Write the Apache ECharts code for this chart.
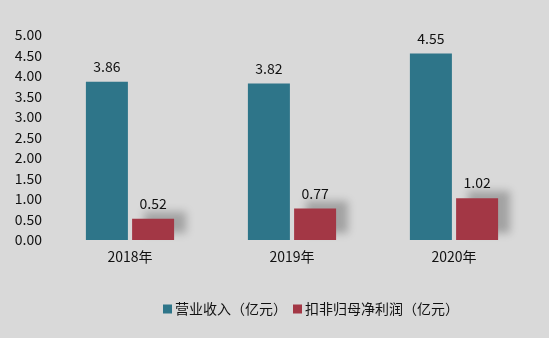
<!DOCTYPE html>
<html><head><meta charset="utf-8">
<script src="https://cdn.jsdelivr.net/npm/echarts@6/dist/echarts.min.js"></script>
<style>html,body{margin:0;padding:0;background:#d9d9d9;}#c{width:549px;height:338px;}</style>
</head><body><div id="c"></div>
<script>
const categories = ['2018年', '2019年', '2020年'];
const revenue = [3.86, 3.82, 4.55];
const netProfit = [0.52, 0.77, 1.02];
const yTicks = { min: 0, max: 5, interval: 0.5 };
const seriesNames = ['营业收入（亿元）', '扣非归母净利润（亿元）'];

const font = '"Noto Sans CJK SC", "Noto Sans", sans-serif';
const chart = echarts.init(document.getElementById('c'));
chart.setOption({
  backgroundColor: '#d9d9d9',
  animation: false,
  textStyle: { fontFamily: font },
  grid: { left: 49, right: 14, top: 35, bottom: 98 },
  legend: {
    top: 297, left: 158,
    itemWidth: 9, itemHeight: 9, itemGap: 6,
    icon: 'rect',
    textStyle: { fontSize: 14, color: '#111', fontFamily: font, padding: [0, 0, 0, -2] },
    data: seriesNames
  },
  xAxis: {
    type: 'category', data: categories,
    axisLine: { show: false }, axisTick: { show: false },
    axisLabel: { fontSize: 14, color: '#111', margin: 10, fontFamily: font }
  },
  yAxis: {
    type: 'value', min: yTicks.min, max: yTicks.max, interval: yTicks.interval,
    splitLine: { show: false }, axisLine: { show: false }, axisTick: { show: false },
    axisLabel: { fontSize: 14, color: '#111', margin: 7, fontFamily: font,
      formatter: v => v.toFixed(2) }
  },
  series: [
    { name: seriesNames[0], type: 'bar', data: revenue, barWidth: 42, barGap: '10%',
      itemStyle: { color: '#2e7589' },
      label: { show: true, position: 'top', distance: 8, fontSize: 14, color: '#111', fontFamily: font, formatter: p => p.value.toFixed(2) } },
    { name: seriesNames[1], type: 'bar', data: netProfit, barWidth: 42,
      itemStyle: { color: '#a33745', shadowColor: 'rgba(0,0,0,0.25)', shadowBlur: 8, shadowOffsetX: 12, shadowOffsetY: -7 },
      label: { show: true, position: 'top', distance: 8, fontSize: 14, color: '#111', fontFamily: font, formatter: p => p.value.toFixed(2) } }
  ]
});
</script></body></html>
